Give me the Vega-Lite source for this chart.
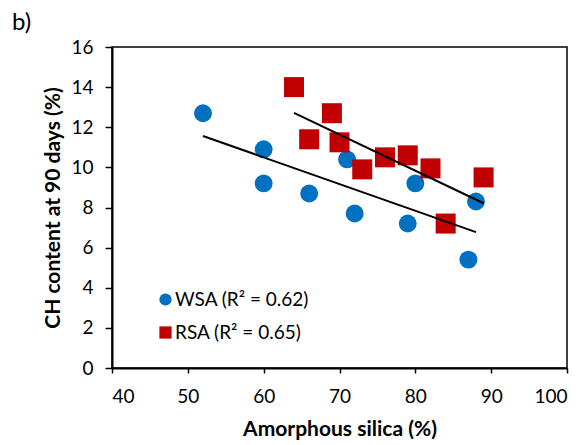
{
  "$schema": "https://vega.github.io/schema/vega-lite/v6.json",
  "width": 455,
  "height": 321,
  "autosize": {"type": "none"},
  "padding": {"left": 112, "top": 47, "right": 17, "bottom": 77},
  "background": "white",
  "title": {"text": "b)", "anchor": "start", "frame": "group", "dx": -100, "dy": 18, "offset": 2, "baseline": "alphabetic", "fontSize": 24, "font": "Lato", "fontWeight": "normal", "color": "black"},
  "config": {
    "font": "Lato",
    "view": {"stroke": "black", "strokeWidth": 1.5},
    "axis": {"grid": false, "domainColor": "black", "domainWidth": 2, "tickColor": "black", "tickWidth": 1.5, "labelColor": "black", "labelFont": "Lato", "labelFontSize": 19, "titleFont": "Lato", "titleFontSize": 21, "titleFontWeight": "bold", "titleColor": "black"}
  },
  "datasets": {
    "pts": [
      {"series": "WSA", "silica": 52, "ch": 12.7},
      {"series": "WSA", "silica": 60, "ch": 10.9},
      {"series": "WSA", "silica": 60, "ch": 9.2},
      {"series": "WSA", "silica": 66, "ch": 8.7},
      {"series": "WSA", "silica": 71, "ch": 10.4},
      {"series": "WSA", "silica": 72, "ch": 7.7},
      {"series": "WSA", "silica": 79, "ch": 7.2},
      {"series": "WSA", "silica": 80, "ch": 9.2},
      {"series": "WSA", "silica": 87, "ch": 5.4},
      {"series": "WSA", "silica": 88, "ch": 8.3},
      {"series": "RSA", "silica": 64, "ch": 14.0},
      {"series": "RSA", "silica": 66, "ch": 11.4},
      {"series": "RSA", "silica": 69, "ch": 12.7},
      {"series": "RSA", "silica": 70, "ch": 11.25},
      {"series": "RSA", "silica": 73, "ch": 9.9},
      {"series": "RSA", "silica": 76, "ch": 10.5},
      {"series": "RSA", "silica": 79, "ch": 10.6},
      {"series": "RSA", "silica": 82, "ch": 9.95},
      {"series": "RSA", "silica": 84, "ch": 7.2},
      {"series": "RSA", "silica": 89, "ch": 9.5}
    ]
  },
  "data": {"name": "pts"},
  "encoding": {
    "x": {"field": "silica", "type": "quantitative", "scale": {"domain": [40, 100], "nice": false, "zero": false}, "axis": {"title": "Amorphous silica (%)", "values": [40, 50, 60, 70, 80, 90, 100], "tickSize": 5, "labelPadding": 14, "titlePadding": 12}},
    "y": {"field": "ch", "type": "quantitative", "scale": {"domain": [0, 16], "nice": false}, "axis": {"title": "CH content at 90 days (%)", "values": [0, 2, 4, 6, 8, 10, 12, 14, 16], "tickSize": 7, "labelPadding": 12, "titlePadding": 7}}
  },
  "layer": [
    {
      "transform": [{"filter": "datum.series == 'WSA'"}],
      "mark": {"type": "point", "filled": true, "opacity": 1, "size": 320},
      "encoding": {
        "color": {"field": "series", "type": "nominal", "scale": {"domain": ["WSA", "RSA"], "range": ["#0070C0", "#C00000"]}, "legend": {"orient": "none", "legendX": 44, "legendY": 243, "title": null, "labelFontSize": 19, "labelColor": "black", "labelFont": "Lato", "symbolSize": 150, "symbolOpacity": 1, "labelOffset": 0, "rowPadding": 13, "labelExpr": "datum.label == 'WSA' ? 'WSA (R² = 0.62)' : 'RSA (R² = 0.65)'"}},
        "shape": {"field": "series", "type": "nominal", "scale": {"domain": ["WSA", "RSA"], "range": ["circle", "square"]}}
      }
    },
    {
      "transform": [{"filter": "datum.series == 'RSA'"}],
      "mark": {"type": "point", "filled": true, "opacity": 1, "size": 400},
      "encoding": {
        "color": {"field": "series", "type": "nominal"},
        "shape": {"field": "series", "type": "nominal"}
      }
    },
    {
      "transform": [{"regression": "ch", "on": "silica", "groupby": ["series"]}],
      "mark": {"type": "line", "color": "black", "strokeWidth": 2},
      "encoding": {"detail": {"field": "series", "type": "nominal"}}
    }
  ]
}
